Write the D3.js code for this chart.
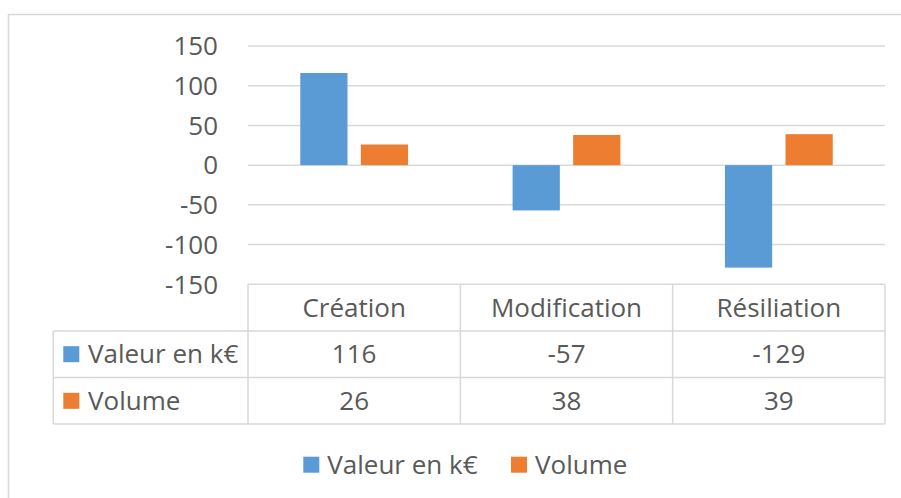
<!DOCTYPE html>
<html><head><meta charset="utf-8">
<script src="https://cdn.jsdelivr.net/npm/d3@7"></script>
<style>
html,body{margin:0;padding:0;background:#fff;}
svg{display:block;}
text{font-family:"Open Sans",sans-serif;fill:#595959;}
</style></head>
<body><svg id="c" width="901" height="498"></svg>
<script>
const categories = ["Création", "Modification", "Résiliation"];
const seriesNames = ["Valeur en k€", "Volume"];
const valeur = [116, -57, -129];
const volume = [26, 38, 39];
const yTicks = [-150, -100, -50, 0, 50, 100, 150];
const colors = ["#5B9BD5", "#ED7D31"];

const series = [valeur, volume];
const svg = d3.select("#c");
const W = 901, H = 498;
const fs = 26;
const grid = "#D9D9D9";

// outer frame
svg.append("path").attr("d", `M8.5,${H} V14.5 H${W}`).attr("fill","none").attr("stroke",grid).attr("stroke-width",1.5);

const x0 = d3.scaleBand().domain(categories).range([248, 885]);
const x1 = d3.scaleBand().domain(seriesNames).range([0, x0.bandwidth()]).paddingInner(0.22).paddingOuter(0.863);
const y = d3.scaleLinear().domain([-150, 150]).range([284.3, 46]);

// gridlines
svg.append("g").selectAll("line").data(yTicks.filter(t => t !== -150)).join("line")
  .attr("x1", 248).attr("x2", 885).attr("y1", d => y(d)).attr("y2", d => y(d))
  .attr("stroke", grid).attr("stroke-width", 1.5);

// y axis labels
const yAxis = d3.axisLeft(y).tickValues(yTicks).tickSize(0).tickPadding(0).tickFormat(d => String(d));
const gy = svg.append("g").attr("transform", "translate(218,0)").call(yAxis);
gy.select(".domain").remove();
gy.selectAll("text").attr("font-size", fs).attr("font-family", "Open Sans").attr("fill", "#595959").attr("dy", "0.34em");

// bars
categories.forEach((c, i) => {
  series.forEach((s, j) => {
    const v = s[i];
    svg.append("rect")
      .attr("x", x0(c) + x1(seriesNames[j]))
      .attr("width", x1.bandwidth())
      .attr("y", y(Math.max(0, v)))
      .attr("height", Math.abs(y(v) - y(0)))
      .attr("fill", colors[j]);
  });
});

// data table
const tTop = 284.3, rowH = 46.6, tLeft = 53.3, tRight = 885;
const rowsY = [tTop, tTop + rowH, tTop + 2 * rowH, tTop + 3 * rowH];
const tg = svg.append("g").attr("fill", "none").attr("stroke", grid).attr("stroke-width", 1.5);
// header row top line
tg.append("line").attr("x1", 248).attr("x2", tRight).attr("y1", rowsY[0]).attr("y2", rowsY[0]);
// other horizontal lines
[1, 2, 3].forEach(k => tg.append("line").attr("x1", tLeft).attr("x2", tRight).attr("y1", rowsY[k]).attr("y2", rowsY[k]));
// vertical lines
tg.append("line").attr("x1", tLeft).attr("x2", tLeft).attr("y1", rowsY[1]).attr("y2", rowsY[3]);
const vx = categories.map(c => x0(c)).concat([tRight]);
vx.forEach(xv => tg.append("line").attr("x1", xv).attr("x2", xv).attr("y1", rowsY[0]).attr("y2", rowsY[3]));

// header texts
categories.forEach(c => {
  svg.append("text").attr("x", x0(c) + x0.bandwidth() / 2).attr("y", (rowsY[0] + rowsY[1]) / 2)
    .attr("dy", "0.35em").attr("text-anchor", "middle").attr("font-size", fs).text(c);
});
// data rows
series.forEach((s, j) => {
  const cy = (rowsY[j + 1] + rowsY[j + 2]) / 2;
  svg.append("rect").attr("x", 63.3).attr("y", cy - 8).attr("width", 16).attr("height", 16).attr("fill", colors[j]);
  svg.append("text").attr("x", 88).attr("y", cy).attr("dy", "0.35em").attr("font-size", fs).text(seriesNames[j]);
  categories.forEach((c, i) => {
    svg.append("text").attr("x", x0(c) + x0.bandwidth() / 2).attr("y", cy).attr("dy", "0.35em")
      .attr("text-anchor", "middle").attr("font-size", fs).text(String(s[i]));
  });
});

// legend
const legX = [303.3, 511];
seriesNames.forEach((n, j) => {
  svg.append("rect").attr("x", legX[j]).attr("y", 456.7).attr("width", 16).attr("height", 16).attr("fill", colors[j]);
  svg.append("text").attr("x", legX[j] + 24).attr("y", 464.7).attr("dy", "0.35em").attr("font-size", fs).text(n);
});
</script></body></html>
